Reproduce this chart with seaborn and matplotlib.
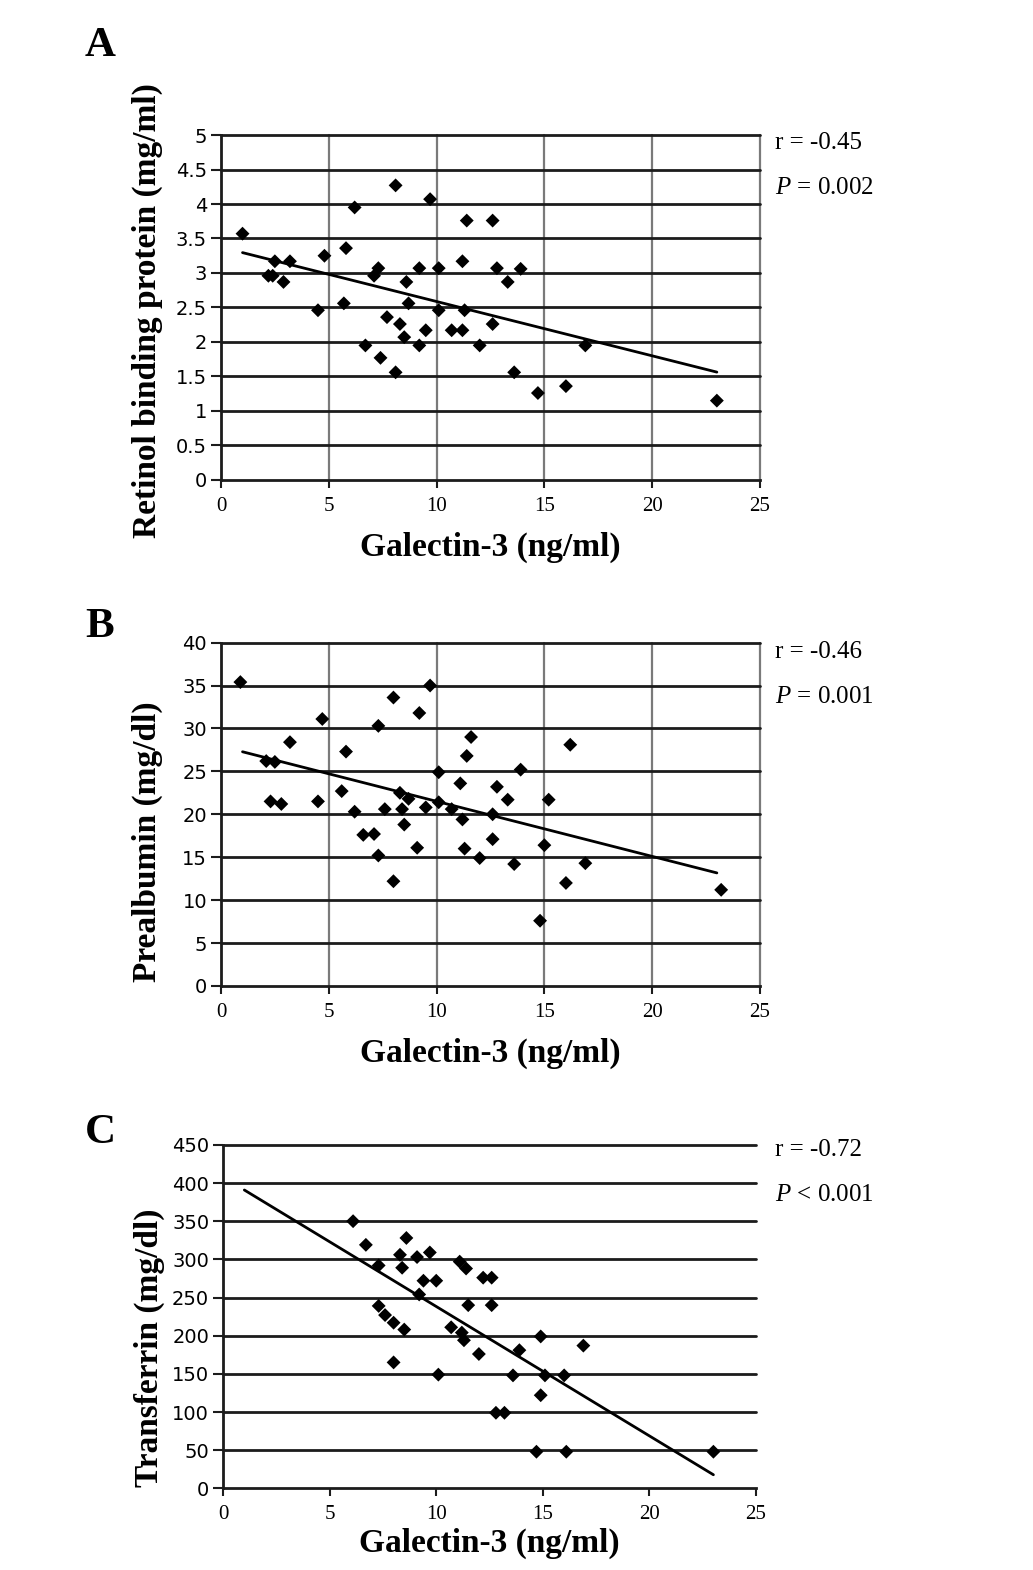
import matplotlib
matplotlib.use("Agg")
import matplotlib.pyplot as plt
import numpy as np
import pandas as pd
import seaborn as sns

# Panel A: galectin-3 vs retinol binding protein
gal_a = [1.0, 2.2, 2.4, 2.5, 2.9, 3.2, 4.5, 4.8, 5.7, 5.8, 6.2, 6.7, 7.1, 7.3, 7.4, 7.7,
         8.1, 8.1, 8.3, 8.5, 8.6, 8.7, 9.2, 9.2, 9.5, 9.7, 10.1, 10.1, 10.7, 11.2, 11.2,
         11.3, 11.4, 12.0, 12.6, 12.6, 12.8, 13.3, 13.9, 13.6, 14.7, 16.0, 16.9, 23.0]
rbp = [3.57, 2.96, 2.96, 3.17, 2.87, 3.17, 2.46, 3.25, 2.56, 3.36, 3.95, 1.95, 2.96, 3.07,
       1.77, 2.36, 4.27, 1.56, 2.26, 2.07, 2.87, 2.56, 1.95, 3.07, 2.17, 4.07, 3.07, 2.46,
       2.17, 3.17, 2.17, 2.46, 3.76, 1.95, 3.76, 2.26, 3.07, 2.87, 3.06, 1.56, 1.26, 1.36,
       1.95, 1.15]

# Panel B: galectin-3 vs prealbumin
gal_b = [0.9, 2.1, 2.5, 2.3, 2.8, 3.2, 4.5, 4.7, 5.6, 5.8, 6.2, 6.6, 7.1, 7.3, 7.3, 7.6,
         8.0, 8.0, 8.3, 8.4, 8.5, 8.7, 9.1, 9.2, 9.5, 9.7, 10.1, 10.1, 10.7, 11.1, 11.2,
         11.3, 11.4, 11.6, 12.0, 12.6, 12.6, 12.8, 13.3, 13.9, 13.6, 15.2, 15.0, 14.8,
         16.2, 16.0, 16.9, 23.2]
prealb = [35.4, 26.2, 26.1, 21.5, 21.2, 28.4, 21.5, 31.1, 22.7, 27.3, 20.3, 17.6, 17.7,
          30.3, 15.2, 20.6, 33.6, 12.2, 22.5, 20.6, 18.8, 21.8, 16.1, 31.8, 20.8, 35.0,
          24.9, 21.4, 20.6, 23.6, 19.4, 16.0, 26.8, 29.0, 14.9, 20.0, 17.1, 23.2, 21.7,
          25.2, 14.2, 21.7, 16.4, 7.6, 28.1, 12.0, 14.3, 11.2]

# Panel C: galectin-3 vs transferrin
gal_c = [6.1, 6.7, 7.3, 7.3, 7.6, 8.0, 8.0, 8.3, 8.4, 8.5, 8.6, 9.1, 9.2, 9.4, 9.7, 10.0,
         10.1, 10.7, 11.1, 11.2, 11.3, 11.4, 11.5, 12.0, 12.2, 12.6, 12.6, 12.8, 13.2,
         13.6, 13.9, 14.7, 14.9, 14.9, 15.1, 16.0, 16.1, 16.9, 23.0]
transf = [350, 319, 292, 239, 227, 217, 165, 306, 289, 208, 328, 303, 254, 272, 309, 272,
          149, 211, 297, 204, 194, 288, 240, 176, 276, 276, 240, 99, 99, 148, 181, 48,
          199, 122, 148, 148, 48, 187, 48]

panels = [
    dict(letter="A", x=gal_a, y=rbp, ylabel="Retinol binding protein (mg/ml)",
         yticks=np.arange(0, 5.01, 0.5), ylabels=["0", "0.5", "1", "1.5", "2", "2.5", "3", "3.5", "4", "4.5", "5"],
         r="r = -0.45", p="$P$ = 0.002", vgrid=True,
         rect=[0.2139, 0.6943, 0.5218, 0.2197], ylab_y=0.49, xlab_y=-0.15,
         letter_y=0.971, r_y=0.909, p_y=0.880),
    dict(letter="B", x=gal_b, y=prealb, ylabel="Prealbumin (mg/dl)",
         yticks=np.arange(0, 41, 5), ylabels=None,
         r="r = -0.46", p="$P$ = 0.001", vgrid=True,
         rect=[0.2139, 0.372, 0.5218, 0.2187], ylab_y=0.42, xlab_y=-0.15,
         letter_y=0.6006, r_y=0.5847, p_y=0.556),
    dict(letter="C", x=gal_c, y=transf, ylabel="Transferrin (mg/dl)",
         yticks=np.arange(0, 451, 50), ylabels=None,
         r="r = -0.72", p="$P$ < 0.001", vgrid=False,
         rect=[0.2159, 0.052, 0.516, 0.2188], ylab_y=0.41, xlab_y=-0.115,
         letter_y=0.2783, r_y=0.2675, p_y=0.239),
]

sns.set_style("white")
serif = ["Liberation Serif", "DejaVu Serif"]
plt.rcParams["mathtext.fontset"] = "custom"
plt.rcParams["mathtext.it"] = "Liberation Serif:italic"
plt.rcParams["mathtext.rm"] = "Liberation Serif"
plt.rcParams["text.color"] = "black"
plt.rcParams["axes.labelcolor"] = "black"
plt.rcParams["xtick.labelcolor"] = "black"
plt.rcParams["ytick.labelcolor"] = "black"

fig = plt.figure(figsize=(10.33, 15.7), dpi=100)
dark = "#1c1c1c"
grey = "#7a7a7a"

for pn in panels:
    ax = fig.add_axes(pn["rect"])
    df = pd.DataFrame({"gal": pn["x"], "val": pn["y"]})
    sns.scatterplot(data=df, x="gal", y="val", marker="D", color="black", s=50,
                    edgecolor="none", ax=ax, zorder=4, clip_on=False)

    # least-squares trend line over the galectin-3 range
    slope, icpt = np.polyfit(df["gal"], df["val"], 1)
    xs = np.array([min(gal_a), max(gal_a)])
    sns.lineplot(x=xs, y=icpt + slope * xs, color="black", lw=2, ax=ax, zorder=3)

    ax.set_xlim(0, 25)
    ax.set_ylim(pn["yticks"][0], pn["yticks"][-1])
    ax.set_xticks(range(0, 26, 5))
    ax.set_yticks(pn["yticks"])
    if pn["ylabels"]:
        ax.set_yticklabels(pn["ylabels"])

    for yv in pn["yticks"][1:]:
        ax.axhline(yv, color=dark, lw=2, zorder=1, clip_on=False)
    if pn["vgrid"]:
        for xv in range(5, 26, 5):
            ax.axvline(xv, color=grey, lw=1.6, zorder=0.5, clip_on=False)

    for s in ["top", "right"]:
        ax.spines[s].set_visible(False)
    for s in ["left", "bottom"]:
        ax.spines[s].set_color(dark)
        ax.spines[s].set_linewidth(2)

    ax.tick_params(axis="y", direction="out", length=7, width=1.5, color=dark,
                   labelsize=14, left=True, pad=3)
    ax.tick_params(axis="x", direction="out", length=6, width=1.5, color=dark,
                   labelsize=15, bottom=True, pad=6)
    for t in ax.get_yticklabels():
        t.set_family("DejaVu Sans")
    for t in ax.get_xticklabels():
        t.set_family(serif)

    ax.set_xlabel("Galectin-3 (ng/ml)", family=serif, fontweight="bold", fontsize=24)
    ax.set_ylabel(pn["ylabel"], family=serif, fontweight="bold", fontsize=24)
    ax.xaxis.set_label_coords(0.5, pn["xlab_y"])
    ax.yaxis.set_label_coords(-0.108, pn["ylab_y"])

    fig.text(0.0968, pn["letter_y"], pn["letter"], family=serif, fontweight="bold",
             fontsize=31, ha="center", va="center")
    fig.text(0.750, pn["r_y"], pn["r"], family=serif, fontsize=18, va="center")
    fig.text(0.750, pn["p_y"], pn["p"], family=serif, fontsize=18, va="center")

plt.savefig("out.png", dpi=100)
